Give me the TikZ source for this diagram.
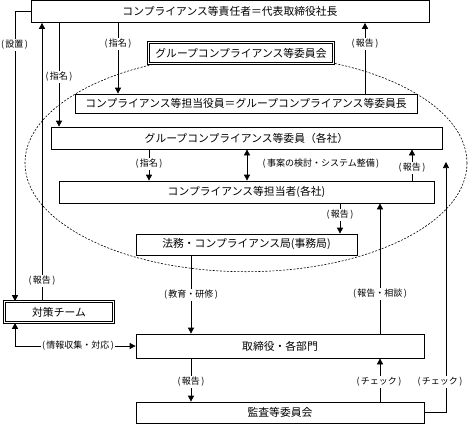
\documentclass[tikz,border=0pt]{standalone}
\usepackage{fontspec}
\setmainfont{Noto Sans CJK JP}
\newcommand\kakkoi[1]{(\kern.15em#1\kern.15em)}
\usetikzlibrary{arrows.meta}
\tikzset{
  waku/.style={draw, fill=white, line width=.7pt, inner sep=0pt, font=\fontsize{10.8}{12}\selectfont},
  nijuu/.style={waku, double, double distance=1.6pt},
  kakko/.style={fill=white, inner sep=1pt, font=\fontsize{9}{10}\selectfont},
  ya/.style={line width=.7pt, -{Triangle[length=6pt,width=6pt]}},
  ryou/.style={line width=.7pt, {Triangle[length=6pt,width=6pt]}-{Triangle[length=6pt,width=6pt]}},
}
\begin{document}
\begin{tikzpicture}[x=1pt,y=-1pt]
  \useasboundingbox (0,0) rectangle (472,424);
  % dashed ring round the group
  \draw[line width=.6pt, dash pattern=on 2pt off 1.5pt] (246,163) ellipse [x radius=221pt, y radius=108.7pt];

  % columns
  \coordinate (c15) at (15,0);
  \coordinate (c42) at (42,0);
  \coordinate (c59) at (59,0);
  \coordinate (c118) at (118,0);
  \coordinate (c149) at (149,0);
  \coordinate (c191) at (191,0);
  \coordinate (c247) at (247,0);
  \coordinate (c340) at (340,0);
  \coordinate (c365) at (365,0);
  \coordinate (c380) at (380,0);
  \coordinate (c412) at (412,0);
  \coordinate (chk) at (446,162);

  % boxes
  \node[waku, minimum width=398pt, minimum height=22pt] (ceo) at (230,11.5) {コンプライアンス等責任者＝代表取締役社長};
  \node[nijuu, minimum width=185pt, minimum height=21pt] (iinkai) at (241,53) {グループコンプライアンス等委員会};
  \node[waku, minimum width=342pt, minimum height=19pt] (yakuin) at (246,103.5) {コンプライアンス等担当役員＝グループコンプライアンス等委員長};
  \node[waku, minimum width=391pt, minimum height=22pt] (iin) at (246.5,138) {グループコンプライアンス等委員（各社）};
  \node[waku, minimum width=375pt, minimum height=22pt] (tantou) at (246.5,192) {コンプライアンス等担当者(各社)};
  \node[waku, minimum width=221pt, minimum height=21pt] (houmu) at (246.5,244.5) {法務・コンプライアンス局(事務局)};
  \node[nijuu, minimum width=109pt, minimum height=21pt] (taisaku) at (59,312) {対策チーム};
  \node[waku, minimum width=288pt, minimum height=24pt] (torishimari) at (280,346) {取締役・各部門};
  \node[waku, minimum width=288pt, minimum height=21pt] (kansa) at (280,412.5) {監査等委員会};

  % connectors
  \draw[ya] (ceo.west) -| (taisaku.north -| c15);
  \draw[ya] (taisaku.north -| c42) -- (ceo.south -| c42);
  \draw[ya] (ceo.south -| c59) -- (iin.north -| c59);
  \draw[ya] (ceo.south -| c118) -- (yakuin.north -| c118);
  \draw[ya] (yakuin.north -| c365) -- (ceo.south -| c365);
  \draw[ya] (iin.south -| c149) -- (tantou.north -| c149);
  \draw[ryou] (iin.south -| c247) -- (tantou.north -| c247);
  \draw[ya] (tantou.north -| c412) -- (iin.south -| c412);
  \draw[ya] (tantou.south -| c340) -- (houmu.north -| c340);
  \draw[ya] (torishimari.north -| c380) -- (tantou.south -| c380);
  \draw[ya] (kansa.east) -| (chk);
  \draw[ya] (houmu.south -| c191) -- (torishimari.north -| c191);
  \draw[ryou] (taisaku.south -| c15) |- (torishimari.west);
  \draw[ya] (torishimari.south -| c191) -- (kansa.north -| c191);
  \draw[ya] (kansa.north -| c380) -- (torishimari.south -| c380);

  % labels
  \node[kakko] (l1) at (14.5,45) {\kakkoi{設置}};
  \node[kakko] (l2) at (42,281) {\kakkoi{報告}};
  \node[kakko] (l3) at (59,77) {\kakkoi{指名}};
  \node[kakko] (l4) at (118,44) {\kakkoi{指名}};
  \node[kakko] (l5) at (365,44) {\kakkoi{報告}};
  \node[kakko] (l6) at (149,164) {\kakkoi{指名}};
  \node[kakko] (l7) at (321,164) {\kakkoi{事案の検討・システム整備}};
  \node[kakko] (l8) at (412,168) {\kakkoi{報告}};
  \node[kakko] (l9) at (340,215) {\kakkoi{報告}};
  \node[kakko] (l10) at (380,294) {\kakkoi{報告・相談}};
  \node[kakko] (l11) at (191,295) {\kakkoi{教育・研修}};
  \node[kakko] (l12) at (78,346) {\kakkoi{情報収集・対応}};
  \node[kakko] (l13) at (191,382) {\kakkoi{報告}};
  \node[kakko] (l14) at (379,382) {\kakkoi{チェック}};
  \node[kakko] (l15) at (440,382) {\kakkoi{チェック}};
\end{tikzpicture}
\end{document}
